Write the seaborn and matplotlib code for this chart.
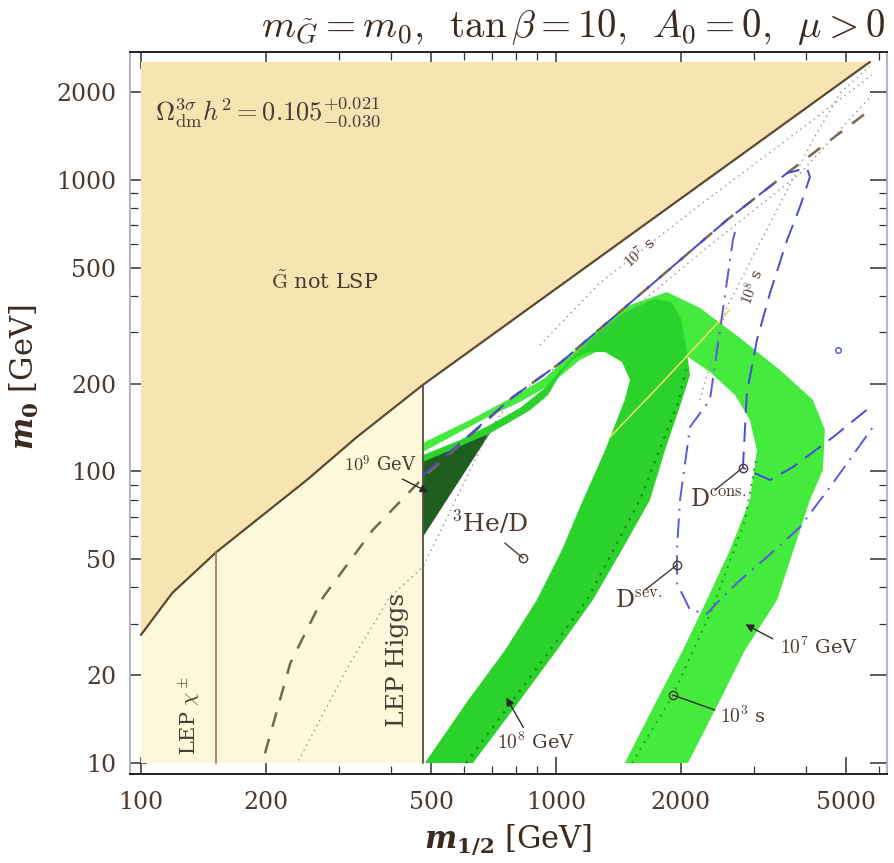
import numpy as np
import pandas as pd
import matplotlib
matplotlib.use("Agg")
import matplotlib.pyplot as plt
import seaborn as sns
from matplotlib.mathtext import MathTextParser

# ---------------- data (m_1/2 [GeV], m_0 [GeV]) ----------------
stau_m12 = [100, 119, 152, 208, 251, 331, 478, 1685, 5710]
stau_m0 = [27.5, 38.3, 52.9, 75.5, 93.4, 131, 198, 723, 2535]
top_m0 = 2535

lep_chi_m12 = 152
lep_chi_top = 52.9
lep_higgs_m12 = 478
lep_higgs_top = 198

dash_m12 = [199, 229, 275, 362, 478, 788, 1022, 2583, 3606, 5710]
dash_m0 = [10.8, 22.0, 37.1, 63, 95, 180, 235, 728, 1054, 1734]

dot_lep_m12 = [240, 275, 319, 398, 478, 693, 788, 1276, 2224, 3872, 5772]
dot_lep_m0 = [10.2, 14.8, 22.0, 37.1, 47, 139, 180, 290, 560, 1050, 1950]

dot7s_m12 = [915, 1276, 2224, 3872, 5772]
dot7s_m0 = [271, 443, 820, 1482, 2288]

dot8s_m12 = [2224, 2583, 4160, 4850, 5710]
dot8s_m0 = [176, 366, 1368, 1990, 2450]

# 10^7 GeV band (outer arc): upper/outer edge then inner edge
band2_m12 = [478, 621, 788, 941, 1081, 1276, 1508, 1851, 2224, 2775, 3466, 4160, 4447, 4398,
             4093, 3410, 2854, 2484, 2080,
             1465, 1750, 2023, 2310, 2626, 2935, 3050, 2935, 2700, 2350, 2081, 1883, 1593,
             1349, 1142, 967, 819, 693, 587, 478]
band2_m0 = [125.2, 150.1, 179.9, 209.1, 250.7, 310.3, 372, 412, 363.4, 286.8, 222.7, 176, 139, 101,
            79.8, 36.2, 24.4, 16.4, 10,
            10, 16.4, 24.4, 36.2, 53.8, 79.8, 118, 150.1, 182.8, 219.2, 247, 271, 282,
            271, 241, 198, 173, 154.9, 136.5, 116.6]

# 10^8 GeV band (inner arc)
band1_m12 = [478, 587, 693, 819, 941, 1051, 1208, 1426, 1720, 1900, 2000, 2058, 2104, 2014, 1831,
             1685, 1442, 1227, 1006, 819, 631,
             483, 614, 754, 899, 1034, 1162, 1313, 1465, 1508, 1442, 1313, 1195, 1093, 1022,
             957, 866, 775, 693, 587, 478]
band1_m0 = [113.8, 128, 144.3, 165, 193.2, 231.7, 282, 343.9, 390, 380, 335, 271, 214, 176, 118,
            79.8, 53.8, 36.2, 24.4, 16.4, 10,
            10, 16.4, 24.4, 36.2, 53.8, 79.8, 118, 176, 206, 237.2, 256.7, 256.7, 241, 214,
            182.8, 162, 147.7, 135, 120, 105.2]

band1_dot_m12 = [607, 788, 1188, 1593, 1968, 2058]
band1_dot_m0 = [10, 16.4, 36.2, 79.8, 171.7, 222.7]
band2_dot_m12 = [1525, 1914, 2376, 2854, 3050]
band2_dot_m0 = [10, 17.1, 33.5, 68.1, 113.8]

tri_m12 = [478, 693, 478]
tri_m0 = [107.7, 135, 59.6]

yellow_m12 = [1349, 1782, 2624]
yellow_m0 = [131, 198, 358]

dcons_m12 = [478, 788, 1022, 2583, 3606, 4025, 4093, 3872, 3606, 3280, 3050, 2884, 2822,
             3280, 3726, 4651, 5710]
dcons_m0 = [97, 180, 235, 728, 1054, 1097, 1022, 807, 622, 409, 282, 186, 103,
            93.4, 103.5, 131, 166]

dsev_m12 = [2700, 2670, 2350, 2104, 1991, 1957, 1957, 2104, 2310, 2443, 2731, 3222,
            3872, 4651, 5807]
dsev_m0 = [662, 622, 176, 142, 79.8, 53.8, 41.4, 33.5, 32.5, 35.4, 41.4, 50.8,
           64.4, 91.2, 142]

# ---------------- style ----------------
sns.set_theme(style="ticks")
plt.rcParams["font.family"] = ["DejaVu Serif"]
plt.rcParams["mathtext.fontset"] = "cm"

W, H = 894, 863
fig = plt.figure(figsize=(W / 100, H / 100), dpi=100)
ax = fig.add_axes([130 / W, 1 - 774 / H, (887 - 130) / W, (774 - 52) / H])
ax.set_xscale("log")
ax.set_yscale("log")
ax.set_xlim(94.1, 6277)
ax.set_ylim(9.17, 2742)

tan_c = "#F8E3B2"
cream_c = "#FDF8DA"
txt_c = "#4A3A30"

ax.fill(stau_m12 + [stau_m12[-1], stau_m12[0]], stau_m0 + [top_m0, top_m0],
        color=tan_c, lw=0, zorder=1)
lep_x = [m for m in stau_m12 if m <= lep_higgs_m12]
lep_y = stau_m0[:len(lep_x)]
ax.fill(lep_x + [lep_higgs_m12, lep_x[0]], lep_y + [10, 10], color=cream_c, lw=0, zorder=1)

ax.fill(band2_m12, band2_m0, color="#44EA3C", lw=0, zorder=2)
ax.fill(band1_m12, band1_m0, color="#2CD22C", lw=0, zorder=3)
ax.fill(tri_m12, tri_m0, color="#1E5E1E", lw=0, zorder=4)


def line(x, y, color, lw, dashes=None, z=5):
    a = sns.lineplot(x=x, y=y, sort=False, estimator=None, color=color, lw=lw, ax=ax, zorder=z)
    ln = a.lines[-1]
    if dashes:
        ln.set_dashes(dashes)
    return ln


line(stau_m12, stau_m0, "#5C4A2E", 1.6, z=6)
ax.plot([lep_chi_m12, lep_chi_m12], [10, lep_chi_top], color="#A08060", lw=1.3, zorder=6)
ax.plot([lep_higgs_m12, lep_higgs_m12], [10, lep_higgs_top], color="#555040", lw=1.3, zorder=6)

line(dash_m12, dash_m0, "#7A6650", 1.8, [6, 5])
line(dot_lep_m12, dot_lep_m0, "#9A8A98", 1.0, [1, 3])
line(dot7s_m12, dot7s_m0, "#9A8A98", 1.0, [1, 3])
line(dot8s_m12, dot8s_m0, "#9A8A98", 1.0, [1, 3])
line(band1_dot_m12, band1_dot_m0, "#168A16", 1.6, [1, 3], z=5)
line(band2_dot_m12, band2_dot_m0, "#22A022", 1.4, [1, 3], z=5)
line(yellow_m12, yellow_m0, "#E8E060", 1.2)
line(dcons_m12, dcons_m0, "#4A4AD8", 1.4, [10, 5], z=7)
line(dsev_m12, dsev_m0, "#5A5AE0", 1.4, [10, 4, 1, 4], z=7)

mk = dict(marker="o", ms=6, mfc="none", mec="#4A3A30", mew=1.0, ls="none", zorder=9)
ax.plot([833], [50.4], **mk)
ax.plot([2822], [103], **mk)
ax.plot([1957], [47.8], **mk)
ax.plot([1914], [17.1], **mk)
ax.plot([4782], [261], marker="o", ms=4, mfc="none", mec="#5050E0", ls="none", zorder=9)


def lab(x, y, s, **kw):
    ax.text(x, y, s, color=txt_c, fontsize=kw.pop("fontsize", 13), zorder=10, **kw)


lab(108, 1708, r"$\Omega^{3\sigma}_{\rm dm}h^2 = 0.105^{+0.021}_{-0.030}$", va="center", fontsize=19)
lab(277, 446, r"$\tilde{\rm G}$ not LSP", ha="center", va="center", fontsize=15)
lab(131, 14.6, r"LEP $\chi^\pm$", rotation=90, ha="center", va="center", fontsize=15)
lab(414, 22.6, "LEP Higgs", rotation=90, ha="center", va="center", fontsize=18)
lab(377, 105, r"$10^9$ GeV", ha="center", va="center", fontsize=13)
ax.annotate("", xy=(500, 84), xytext=(421, 95),
            arrowprops=dict(arrowstyle="-|>", color="#2A2A2A", lw=1), zorder=10)
lab(693, 66.5, r"$^3$He/D", ha="center", va="center", fontsize=18)
ax.plot([753, 833], [56.8, 50.4], color="#4A3A30", lw=1, zorder=9)
lab(2104, 79.8, r"D$^{\rm cons.}$", va="center", fontsize=17)
ax.plot([2415, 2822], [86.3, 103], color="#4A3A30", lw=1, zorder=9)
lab(1387, 36.2, r"D$^{\rm sev.}$", va="center", fontsize=17)
ax.plot([1639, 1957], [39.2, 47.8], color="#4A3A30", lw=1, zorder=9)
lab(3466, 25, r"$10^7$ GeV", va="center", fontsize=14)
ax.annotate("", xy=(2822, 30.2), xytext=(3373, 26.4),
            arrowprops=dict(arrowstyle="-|>", color="#2A2A2A", lw=1), zorder=10)
lab(2484, 14.5, r"$10^3$ s", va="center", fontsize=14)
ax.plot([1914, 2415], [17.1, 15.2], color="#2A2A2A", lw=1, zorder=9)
lab(721, 11.8, r"$10^8$ GeV", va="center", fontsize=14)
ax.annotate("", xy=(753, 17.1), xytext=(841, 13),
            arrowprops=dict(arrowstyle="-|>", color="#2A2A2A", lw=1), zorder=10)
lab(1593, 561, r"$10^7$ s", ha="center", va="center", rotation=42, fontsize=11)
lab(2965, 429, r"$10^8$ s", ha="center", va="center", rotation=70, fontsize=11)

xmaj = [100, 200, 500, 1000, 2000, 5000]
xmin = [300, 400, 600, 700, 800, 900, 3000, 4000, 6000]
ymaj = [10, 20, 50, 100, 200, 500, 1000, 2000]
ymin = [30, 40, 60, 70, 80, 90, 300, 400, 600, 700, 800, 900]
ax.set_xticks(xmaj)
ax.set_xticklabels([str(v) for v in xmaj])
ax.set_xticks(xmin, minor=True)
ax.set_xticklabels([], minor=True)
ax.set_yticks(ymaj)
ax.set_yticklabels([str(v) for v in ymaj])
ax.set_yticks(ymin, minor=True)
ax.set_yticklabels([], minor=True)
ax.tick_params(which="both", direction="in", top=True, right=True, color="#333333")
ax.tick_params(which="major", length=12, width=1.1, labelsize=17, labelcolor="#4A3A30")
ax.tick_params(axis="x", which="major", pad=12)
ax.tick_params(axis="y", which="major", pad=10)
ax.tick_params(which="minor", length=6, width=0.9)
for s in ["left", "right"]:
    ax.spines[s].set_color("#A8A8C8")
for s in ["top", "bottom"]:
    ax.spines[s].set_color("#222222")
    ax.spines[s].set_linewidth(1.4)


def mt_ok(s, fs):
    try:
        with plt.rc_context({"mathtext.fontset": fs}):
            MathTextParser("path").parse(s, dpi=72)
        return True
    except Exception:
        return False


xl = r"$\mathbfit{m}_{\mathbf{1/2}}$ [GeV]"
yl = r"$\mathbfit{m}_{\mathbf{0}}$ [GeV]"
mff = "dejavuserif"
if not mt_ok(xl, mff):
    xl = r"$\mathbf{m_{1/2}}$ [GeV]"
    yl = r"$\mathbf{m_{0}}$ [GeV]"
ax.set_xlabel(xl, fontsize=22, color="#3A2A20", labelpad=6, math_fontfamily=mff)
ax.set_ylabel(yl, fontsize=22, color="#3A2A20", math_fontfamily=mff)
ax.yaxis.set_label_coords(-0.118, 0.55)
fig.text(885 / W, 1 - 27 / H,
         r"$m_{\tilde G} = m_0,\;\; \tan\beta = 10,\;\; A_0 = 0,\;\; \mu > 0$",
         ha="right", va="center", fontsize=28, color="#3A2A20")

fig.savefig("out.png", dpi=100)
